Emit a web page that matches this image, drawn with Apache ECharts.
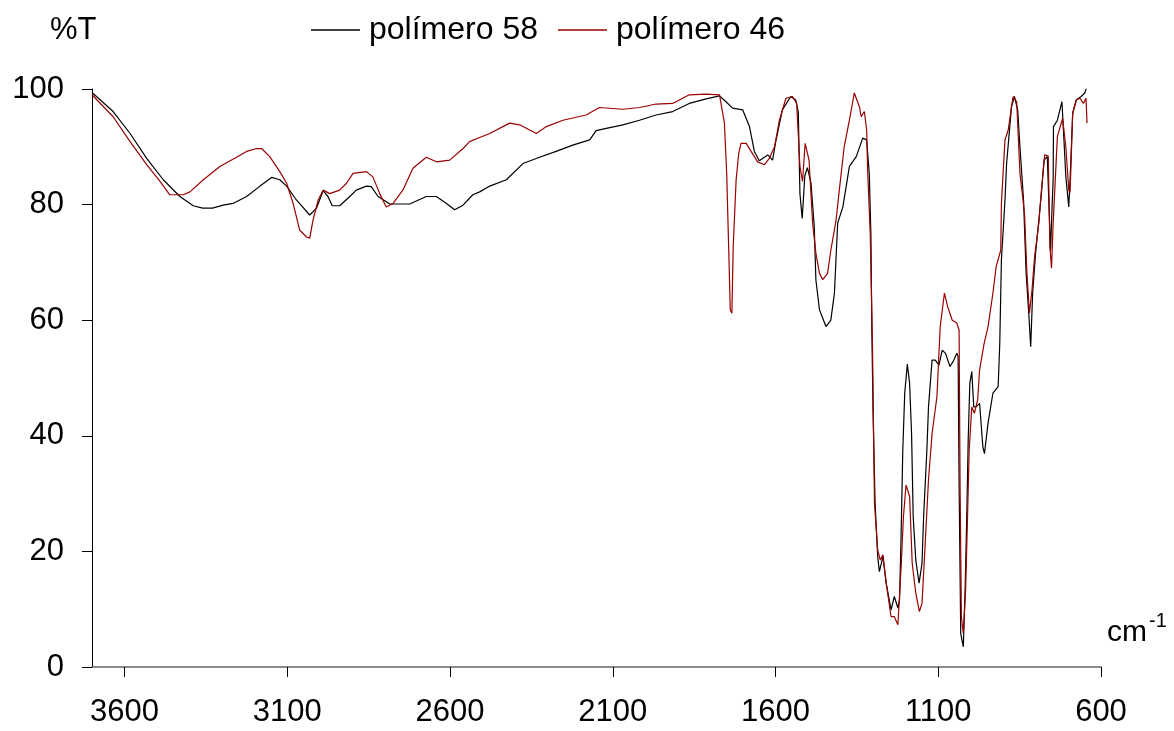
<!DOCTYPE html>
<html>
<head>
<meta charset="utf-8">
<script src="https://cdn.jsdelivr.net/npm/echarts@6/dist/echarts.min.js"></script>
<style>
html,body{margin:0;padding:0;background:#fff;}
#chart{width:1174px;height:731px;}
</style>
</head>
<body>
<div id="chart"></div>
<script>
// Wavenumber ticks (cm-1)
const xTicks = [3600, 3100, 2600, 2100, 1600, 1100, 600];
const seriesNames = ['polímero 58', 'polímero 46'];

// polímero 58 (black)
const wn58 = [3700,3635,3583,3532,3481,3430,3389,3360,3330,3297,3267,3225,3184,3148,3123,3102,3072,3031,3010,2990,2975,2962,2939,2908,2888,2857,2842,2821,2785,2724,2673,2642,2611,2586,2560,2530,2509,2478,2427,2376,2325,2274,2223,2171,2151,2120,2069,2018,1967,1916,1865,1813,1772,1752,1732,1701,1680,1665,1650,1624,1609,1599,1579,1553,1538,1530,1525,1518,1510,1502,1491,1481,1476,1465,1445,1430,1419,1409,1393,1373,1352,1332,1320,1312,1307,1304,1300,1294,1286,1281,1270,1260,1245,1235,1224,1219,1214,1209,1203,1195,1188,1182,1177,1169,1159,1150,1145,1135,1130,1119,1109,1098,1088,1078,1064,1052,1043,1039,1036,1031,1023,1017,1012,1008,1003,997,991,984,973,963,958,947,932,916,911,906,895,890,875,866,856,849,838,830,822,816,810,801,791,783,775,765,760,755,750,747,746,734,720,716,708,699,695,687,676,661,650,645];
const t58 = [99.4,96.1,92.3,88.0,84.3,81.4,79.8,79.4,79.4,79.9,80.2,81.4,83.2,84.7,84.3,83.2,80.8,78.2,79.4,82.4,81.4,79.8,79.8,81.4,82.5,83.2,83.1,81.4,80.1,80.1,81.4,81.4,80.2,79.1,79.9,81.7,82.2,83.2,84.3,87.1,88.2,89.2,90.3,91.2,92.8,93.2,93.8,94.6,95.5,96.1,97.5,98.3,98.8,97.8,96.7,96.4,93.5,89.2,87.6,88.6,87.7,91.0,96.4,98.7,98.1,96.0,81.9,77.6,85.0,86.4,83.7,76.2,67.0,61.8,58.9,60.0,64.7,76.8,79.6,86.6,88.3,91.5,91.2,85.4,75.0,58.0,43.0,28.3,19.1,16.5,19.1,14.5,9.9,12.2,10.2,11.6,23.1,37.5,47.4,52.4,49.1,40.4,26.0,18.5,14.5,17.9,26.0,37.5,45.0,53.1,53.1,52.2,54.8,54.3,52.0,53.1,54.3,53.7,31.8,5.8,3.5,14.5,27.2,39.3,49.1,51.1,45.0,45.0,45.6,38.1,36.9,42.2,47.4,48.5,56.0,70.4,80.8,87.1,96.9,98.7,96.4,90.0,80.8,68.1,61.2,55.4,64.7,71.6,77.3,82.0,87.7,88.3,80.0,72.0,80.0,84.3,93.5,94.6,97.8,93.5,84.8,79.6,84.3,95.8,98.1,98.7,99.3,100.1];

// polímero 46 (red)
const wn46 = [3700,3635,3583,3532,3491,3461,3420,3399,3358,3307,3256,3225,3194,3179,3154,3123,3102,3082,3062,3041,3031,3021,3005,2990,2970,2939,2918,2898,2857,2837,2816,2796,2775,2745,2714,2673,2642,2601,2560,2540,2509,2478,2417,2386,2335,2304,2253,2182,2141,2069,2018,1967,1916,1865,1813,1772,1757,1750,1744,1739,1734,1730,1721,1713,1706,1690,1675,1655,1634,1619,1603,1588,1568,1548,1535,1525,1517,1509,1497,1486,1476,1465,1455,1440,1430,1414,1404,1389,1373,1358,1342,1337,1327,1320,1317,1309,1302,1296,1286,1278,1270,1260,1245,1235,1224,1214,1207,1199,1188,1180,1169,1158,1150,1140,1130,1119,1104,1094,1081,1071,1057,1043,1036,1033,1029,1023,1016,1010,1005,997,989,979,973,959,947,932,922,908,906,895,885,875,870,859,849,835,828,820,812,804,791,783,773,762,757,752,747,734,718,708,699,695,687,676,665,654,646,643];
const t46 = [99.0,95.2,90.9,86.9,84.0,81.7,81.7,82.2,84.3,86.6,88.2,89.2,89.7,89.7,88.3,85.7,83.7,80.2,75.6,74.4,74.2,77.3,80.8,82.5,81.9,82.5,83.7,85.4,85.7,84.8,81.9,79.6,80.2,82.5,86.3,88.2,87.4,87.7,89.7,90.9,91.6,92.3,94.1,93.8,92.3,93.5,94.6,95.5,96.8,96.5,96.8,97.4,97.5,99.0,99.1,99.0,94.1,85.4,72.7,61.8,61.2,72.7,84.3,88.9,90.6,90.6,89.2,87.4,86.9,88.0,90.0,94.6,98.4,98.7,97.5,86.6,84.0,90.6,87.7,76.8,71.6,68.1,67.0,68.1,72.1,77.3,82.5,90.0,94.6,99.3,96.9,95.2,96.1,92.9,86.0,75.0,55.4,28.3,20.2,18.5,19.4,14.5,8.7,8.7,7.3,17.4,26.0,31.5,29.5,17.9,12.8,9.6,11.0,21.4,32.4,40.4,46.8,58.9,64.7,62.3,60.0,59.5,58.3,31.8,8.7,5.8,13.3,26.0,37.5,45.0,43.9,46.2,51.4,56.0,58.9,64.7,69.3,72.1,80.2,91.2,92.9,96.9,98.7,97.8,85.4,78.5,68.7,61.2,65.2,71.0,76.8,82.5,88.6,88.4,72.7,69.0,76.8,91.8,94.9,90.0,82.5,82.1,95.8,98.1,98.4,97.5,98.4,94.1];

const pair = (xs, ys) => xs.map((x, i) => [x, ys[i]]);
const FONT = '"Liberation Sans", Arial, sans-serif';

const chart = echarts.init(document.getElementById('chart'), null, {renderer: 'canvas'});
chart.setOption({
  animation: false,
  backgroundColor: '#ffffff',
  textStyle: {fontFamily: FONT},
  grid: {left: 92, right: 73, top: 89, bottom: 64, containLabel: false},
  legend: {
    left: 311, top: 14, padding: 0,
    itemWidth: 49, itemHeight: 1.5, itemGap: 20,
    icon: 'rect',
    textStyle: {fontSize: 32, color: '#000', fontFamily: FONT, padding: [0, 0, 0, 4]},
    data: seriesNames
  },
  xAxis: {
    type: 'value', min: 600, max: 3700, inverse: true,
    splitLine: {show: false},
    axisLine: {show: true, onZero: false, lineStyle: {color: '#666', width: 1.5}},
    axisTick: {show: true, inside: false, length: 10, lineStyle: {color: '#000', width: 1}, customValues: xTicks},
    axisLabel: {show: true, fontSize: 31, color: '#000', margin: 30, fontFamily: FONT, customValues: xTicks,
      formatter: v => String(v)}
  },
  yAxis: {
    type: 'value', min: 0, max: 100, interval: 20,
    splitLine: {show: false},
    axisLine: {show: true, lineStyle: {color: '#000', width: 1}},
    axisTick: {show: true, inside: false, length: 10, lineStyle: {color: '#000', width: 1}},
    axisLabel: {fontSize: 31, color: '#000', margin: 28, fontFamily: FONT, formatter: v => String(v)}
  },
  graphic: [
    {type: 'text', left: 50, top: 15, style: {text: '%T', fill: '#000', font: '31px ' + FONT}},
    {type: 'text', left: 1107, top: 618, style: {text: 'cm', fill: '#000', font: '30px ' + FONT}},
    {type: 'text', left: 1149, top: 611, style: {text: '-1', fill: '#000', font: '20px ' + FONT}}
  ],
  series: [
    {name: seriesNames[0], type: 'line', data: pair(wn58, t58), showSymbol: false, symbol: 'none',
     lineStyle: {color: '#000000', width: 1.2}, itemStyle: {color: '#000000'}},
    {name: seriesNames[1], type: 'line', data: pair(wn46, t46), showSymbol: false, symbol: 'none',
     lineStyle: {color: '#990000', width: 1.2}, itemStyle: {color: '#990000'}}
  ]
});
</script>
</body>
</html>
